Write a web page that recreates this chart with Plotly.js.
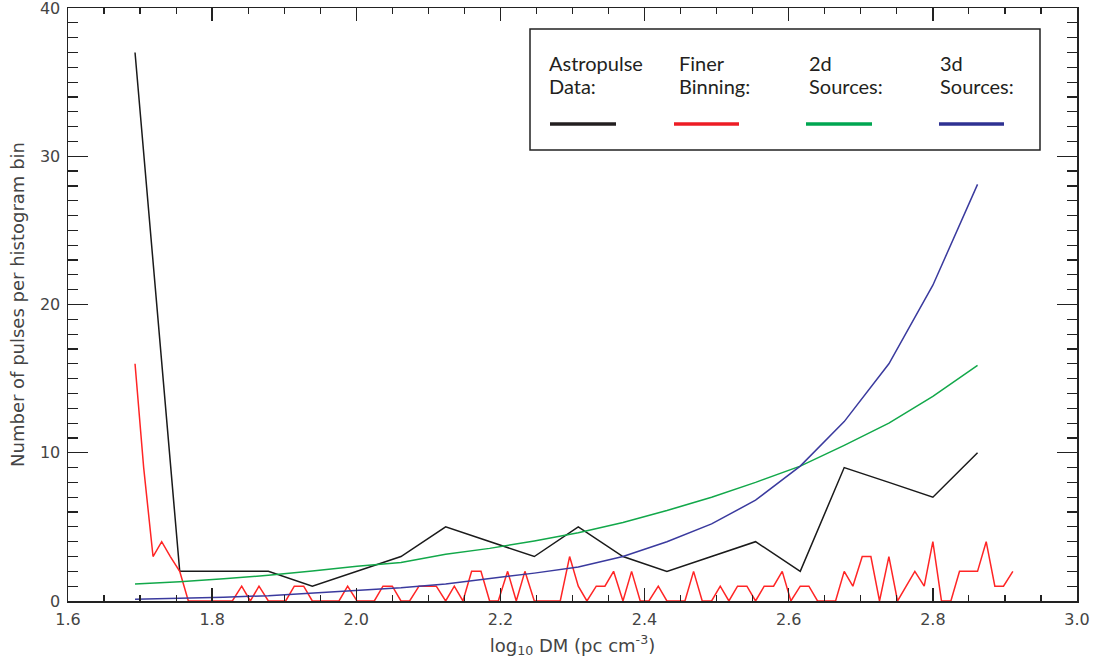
<!DOCTYPE html>
<html>
<head>
<meta charset="utf-8">
<script src="https://cdn.plot.ly/plotly-3.0.1.min.js"></script>
<style>html,body{margin:0;padding:0;background:#fff;}#chart{width:1099px;height:662px;}</style>
</head>
<body>
<div id="chart"></div>
<script>
// Coarse histogram bins (log10 DM) and counts - "Astropulse Data"
const dataX = [1.693, 1.755, 1.816, 1.878, 1.939, 2.001, 2.062, 2.124, 2.185, 2.247,
               2.308, 2.370, 2.431, 2.493, 2.554, 2.616, 2.677, 2.739, 2.800, 2.862];
const dataCounts = [37, 2, 2, 2, 1, 2, 3, 5, 4, 3,
                    5, 3, 2, 3, 4, 2, 9, 8, 7, 10];

// Model curves evaluated on the coarse bins
const sources2d = [1.15, 1.3, 1.5, 1.73, 2.02, 2.35, 2.6, 3.15, 3.55, 4.05,
                   4.6, 5.3, 6.1, 7.0, 8.0, 9.1, 10.5, 12.0, 13.8, 15.9];
const sources3d = [0.12, 0.18, 0.25, 0.36, 0.53, 0.75, 0.9, 1.15, 1.5, 1.88,
                   2.3, 3.0, 4.0, 5.2, 6.8, 9.1, 12.1, 16.0, 21.3, 28.1];

// Finer binning (log10 DM) and counts
const fineX = [1.693, 1.705, 1.718, 1.730, 1.742, 1.755, 1.767, 1.779, 1.791, 1.804,
               1.816, 1.828, 1.841, 1.853, 1.865, 1.878, 1.890, 1.902, 1.914, 1.927,
               1.939, 1.951, 1.964, 1.976, 1.988, 2.001, 2.013, 2.025, 2.037, 2.050,
               2.062, 2.074, 2.087, 2.099, 2.111, 2.124, 2.136, 2.148, 2.160, 2.173,
               2.185, 2.197, 2.210, 2.222, 2.234, 2.247, 2.259, 2.271, 2.283, 2.296,
               2.308, 2.320, 2.333, 2.345, 2.357, 2.370, 2.382, 2.394, 2.406, 2.419,
               2.431, 2.443, 2.456, 2.468, 2.480, 2.493, 2.505, 2.517, 2.529, 2.542,
               2.554, 2.566, 2.579, 2.591, 2.603, 2.616, 2.628, 2.640, 2.652, 2.665,
               2.677, 2.689, 2.702, 2.714, 2.726, 2.739, 2.751, 2.763, 2.775, 2.788,
               2.800, 2.812, 2.825, 2.837, 2.849, 2.862, 2.874, 2.886, 2.898, 2.911];
const fineCounts = [16, 9, 3, 4, 3, 2, 0, 0, 0, 0,
                    0, 0, 1, 0, 1, 0, 0, 0, 1, 1,
                    0, 0, 0, 0, 1, 0, 0, 0, 1, 1,
                    0, 0, 1, 1, 1, 0, 1, 0, 2, 2,
                    0, 0, 2, 0, 2, 0, 0, 0, 0, 3,
                    1, 0, 1, 1, 2, 0, 2, 0, 0, 1,
                    0, 0, 0, 2, 0, 0, 1, 0, 1, 1,
                    0, 1, 1, 2, 0, 1, 1, 0, 0, 0,
                    2, 1, 3, 3, 0, 3, 0, 1, 2, 1,
                    4, 0, 0, 2, 2, 2, 4, 1, 1, 2];

const xTickVals = [1.6, 1.8, 2.0, 2.2, 2.4, 2.6, 2.8, 3.0];
const yTickVals = [0, 10, 20, 30, 40];

const legendNames = [["Astropulse", "Data:"], ["Finer", "Binning:"], ["2d", "Sources:"], ["3d", "Sources:"]];
const legendColors = ["#231f20", "#ed1c24", "#00a651", "#2e3192"];
const lineColors = ["#1a1a1a", "#ff2525", "#12a84a", "#3a3a9e"];

const traces = [
  {x: dataX, y: dataCounts, mode: "lines", line: {color: lineColors[0], width: 1.5}, name: "Astropulse Data"},
  {x: fineX, y: fineCounts, mode: "lines", line: {color: lineColors[1], width: 1.5}, name: "Finer Binning"},
  {x: dataX, y: sources2d, mode: "lines", line: {color: lineColors[2], width: 1.5}, name: "2d Sources"},
  {x: dataX, y: sources3d, mode: "lines", line: {color: lineColors[3], width: 1.5}, name: "3d Sources"}
];

// legend geometry in pixel space, converted to paper coords
const L = 68, R = 1077, T = 8, B = 601;
const px = v => (v - L) / (R - L);
const py = v => (B - v) / (B - T);

const textLeft = [547, 677, 807, 938];
const sampleX = [[550, 616], [674, 739], [806, 872], [939, 1004]];

const annotations = [];
const shapes = [{type: "rect", xref: "paper", yref: "paper", x0: px(530), x1: px(1040), y0: py(29), y1: py(150),
                 line: {color: "#222", width: 1.5}, fillcolor: "rgba(255,255,255,1)", layer: "above"}];
legendNames.forEach((pair, i) => {
  annotations.push({xref: "paper", yref: "paper", x: px(textLeft[i]), y: py(63), xanchor: "left", yanchor: "middle",
    text: pair[0], showarrow: false, font: {family: "Lato", size: 20, color: "#231f20"}});
  annotations.push({xref: "paper", yref: "paper", x: px(textLeft[i]), y: py(86), xanchor: "left", yanchor: "middle",
    text: pair[1], showarrow: false, font: {family: "Lato", size: 20, color: "#231f20"}});
  shapes.push({type: "line", xref: "paper", yref: "paper", x0: px(sampleX[i][0]), x1: px(sampleX[i][1]),
    y0: py(124), y1: py(124), line: {color: legendColors[i], width: 3.5}, layer: "above"});
});

const tickFont = {family: "DejaVu Sans", size: 16, color: "#444"};
const titleFont = {family: "DejaVu Sans", size: 18, color: "#444"};

const layout = {
  width: 1099, height: 662,
  margin: {l: L, r: 1099 - R, t: T, b: 662 - B},
  paper_bgcolor: "#fff", plot_bgcolor: "#fff",
  showlegend: false,
  xaxis: {
    range: [1.6, 3.0], tickvals: xTickVals, ticktext: xTickVals.map(v => v.toFixed(1)),
    ticks: "inside", ticklen: 13, tickwidth: 1.3, tickcolor: "#222",
    showline: true, linecolor: "#222", linewidth: 1.5, mirror: "allticks",
    showgrid: false, zeroline: false,
    minor: {dtick: 0.05, tick0: 1.6, ticks: "inside", ticklen: 6, tickwidth: 1.2, tickcolor: "#222", showgrid: false},
    tickfont: tickFont, ticklabelstandoff: 3, ticklabeloverflow: "allow",
    title: {text: "log<sub>10</sub> DM (pc cm<sup>-3</sup>)", font: titleFont, standoff: 11}
  },
  yaxis: {
    range: [0, 40], tickvals: yTickVals,
    ticks: "inside", ticklen: 20, tickwidth: 1.3, tickcolor: "#222",
    showline: true, linecolor: "#222", linewidth: 1.5, mirror: "allticks",
    showgrid: false, zeroline: false,
    minor: {dtick: 1, tick0: 0, ticks: "inside", ticklen: 10, tickwidth: 1.2, tickcolor: "#222", showgrid: false},
    tickfont: tickFont, ticklabelstandoff: 3, ticklabeloverflow: "allow",
    title: {text: "Number of pulses per histogram bin", font: titleFont, standoff: 10}
  },
  annotations: annotations,
  shapes: shapes
};

Plotly.newPlot("chart", traces, layout, {displayModeBar: false, staticPlot: true});
</script>
</body>
</html>
